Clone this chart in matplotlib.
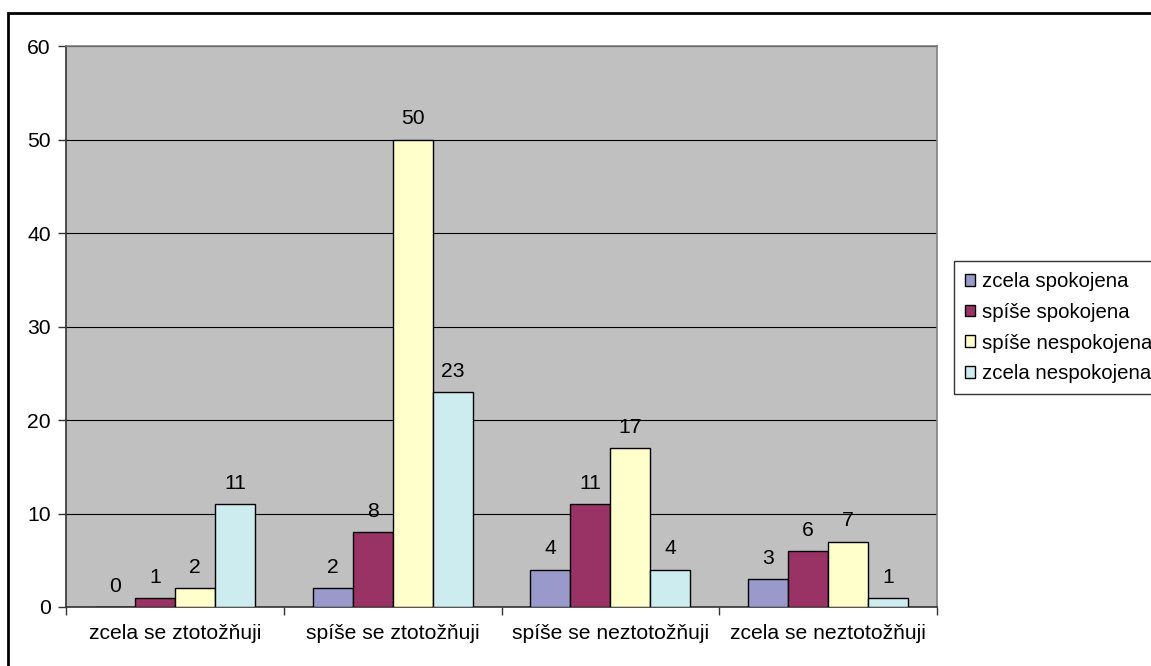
import matplotlib
matplotlib.use("Agg")
import matplotlib.pyplot as plt
import numpy as np
from matplotlib.patches import Rectangle

categories = ["zcela se ztotožňuji", "spíše se ztotožňuji", "spíše se neztotožňuji", "zcela se neztotožňuji"]
series_names = ["zcela spokojena", "spíše spokojena", "spíše nespokojena", "zcela nespokojena"]
zcela_spokojena = [0, 2, 4, 3]
spise_spokojena = [1, 8, 11, 6]
spise_nespokojena = [2, 50, 17, 7]
zcela_nespokojena = [11, 23, 4, 1]
series_values = [zcela_spokojena, spise_spokojena, spise_nespokojena, zcela_nespokojena]
colors = ["#9999CC", "#993366", "#FFFFCC", "#CCECF0"]
yticks = [0, 10, 20, 30, 40, 50, 60]

plt.rcParams['font.family'] = ['Liberation Sans', 'DejaVu Sans']

W, H = 1151, 666
fig = plt.figure(figsize=(W / 100, H / 100), dpi=100)
ax = fig.add_axes([66 / W, 1 - 607 / H, (937 - 66) / W, (607 - 46) / H])
ax.set_facecolor("#C0C0C0")

FS = 15.2
n = len(categories)
bw = 40 / 217.75
x = np.arange(n)
for i, (name, vals, c) in enumerate(zip(series_names, series_values, colors)):
    pos = x + (i - 1.5) * bw
    ax.bar(pos, vals, width=bw, color=c, edgecolor="black", linewidth=1.0,
           label=name, zorder=3)
    for xp, v in zip(pos, vals):
        ax.annotate(str(v), (xp, v), xytext=(0, 8), textcoords="offset points",
                    ha="center", va="bottom", fontsize=FS, zorder=4)

ax.set_xlim(-0.5, n - 0.5)
ax.set_ylim(0, 60)
ax.set_yticks(yticks)
ax.set_yticklabels([str(t) for t in yticks], fontsize=FS)
ax.yaxis.grid(True, color="black", linewidth=0.8, zorder=1)
ax.set_axisbelow(True)

ax.set_xticks(x)
ax.set_xticklabels(categories, fontsize=FS)
ax.tick_params(axis="x", length=0, pad=12)
ax.set_xticks(np.arange(n + 1) - 0.5, minor=True)
ax.tick_params(axis="x", which="minor", length=6, width=1, color="#333333", direction="out")
ax.tick_params(axis="y", length=6, width=1, color="#333333", direction="out", pad=5)

for s in ["left", "bottom"]:
    ax.spines[s].set_color("#333333")
    ax.spines[s].set_linewidth(1.2)
for s in ["top", "right"]:
    ax.spines[s].set_color("#808080")
    ax.spines[s].set_linewidth(1.2)

leg = fig.legend(loc="upper left", bbox_to_anchor=(954 / W, 1 - 261 / H),
                 fontsize=14.7, frameon=True, fancybox=False, edgecolor="black",
                 handlelength=0.5, handleheight=0.5, handletextpad=0.3,
                 labelspacing=0.57, borderpad=0.55, borderaxespad=0)
leg.get_frame().set_linewidth(1.0)

border = Rectangle((8 / W, -0.1), 1.2, 1 - 13 / H + 0.1, transform=fig.transFigure,
                   fill=False, edgecolor="black", linewidth=2, clip_on=False)
fig.patches.append(border)

fig.savefig("out.png", dpi=100)
